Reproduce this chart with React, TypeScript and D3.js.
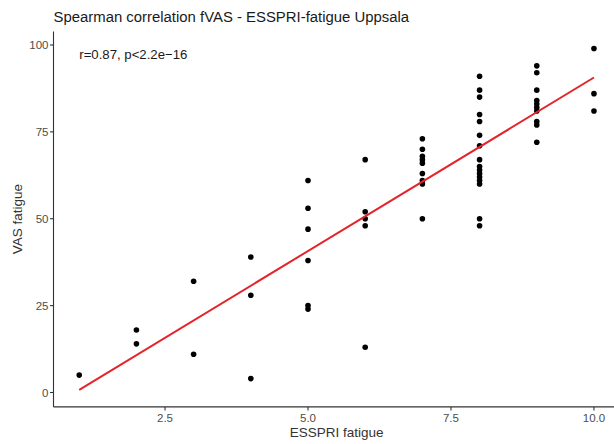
import React from "react";
import * as d3 from "d3";

// ESSPRI fatigue (x) and VAS fatigue (y) values, grouped by x
const esspriX: number[] = [
  1,
  2, 2,
  3, 3,
  4, 4, 4,
  5, 5, 5, 5, 5, 5,
  6, 6, 6, 6, 6,
  7, 7, 7, 7, 7, 7, 7, 7, 7,
  8, 8, 8, 8, 8, 8, 8, 8, 8, 8, 8, 8, 8, 8, 8, 8,
  9, 9, 9, 9, 9, 9, 9, 9, 9, 9,
  10, 10, 10,
];
const vasY: number[] = [
  5,
  18, 14,
  32, 11,
  39, 28, 4,
  61, 53, 47, 38, 25, 24,
  67, 52, 50, 48, 13,
  73, 70, 68, 67, 66, 63, 61, 60, 50,
  91, 87, 85, 80, 78, 74, 71, 67, 65, 64, 63, 62, 61, 60, 50, 48,
  94, 92, 87, 84, 83, 82, 81, 78, 77, 72,
  99, 86, 81,
];
const xTicks: number[] = [2.5, 5.0, 7.5, 10.0];
const yTicks: number[] = [0, 25, 50, 75, 100];
const titleText = "Spearman correlation fVAS - ESSPRI-fatigue Uppsala";
const statLabel = "r=0.87, p<2.2e\u221216";
const xTitle = "ESSPRI fatigue";
const yTitle = "VAS fatigue";

const W = 614;
const H = 444;
const FONT = "'Liberation Sans', Arial, Helvetica, sans-serif";

export default function App() {
  const xMin = d3.min(esspriX)!;
  const xMax = d3.max(esspriX)!;

  // least-squares fit
  const mx = d3.mean(esspriX)!;
  const my = d3.mean(vasY)!;
  let sxy = 0;
  let sxx = 0;
  esspriX.forEach((xv, i) => {
    sxy += (xv - mx) * (vasY[i] - my);
    sxx += (xv - mx) * (xv - mx);
  });
  const slope = sxy / sxx;
  const intercept = my - slope * mx;
  const fitPts: [number, number][] = [xMin, xMax].map((xv) => [xv, intercept + slope * xv]);

  const yMin = Math.min(d3.min(vasY)!, ...fitPts.map((p) => p[1]));
  const yMax = Math.max(d3.max(vasY)!, ...fitPts.map((p) => p[1]));
  const xPad = (xMax - xMin) * 0.05;
  const yPad = (yMax - yMin) * 0.05;

  // panel pixel extents
  const left = 53.5;
  const right = 619.7;
  const top = 31.4;
  const bottom = 406.9;

  const x = d3.scaleLinear().domain([xMin - xPad, xMax + xPad]).range([left, right]);
  const y = d3.scaleLinear().domain([yMin - yPad, yMax + yPad]).range([bottom, top]);

  const line = d3
    .line<[number, number]>()
    .x((d) => x(d[0]))
    .y((d) => y(d[1]));

  const tickCol = "#4d4d4d";

  return (
    <svg
      width={W}
      height={H}
      style={{ position: "absolute", left: 0, top: 0, background: "#fff" }}
      fontFamily={FONT}
    >
      <rect x={0} y={0} width={W} height={H} fill="#fff" />
      <text x={left} y={22} fontSize={14.9} fill="#1a1a1a">
        {titleText}
      </text>

      {/* axes */}
      <line x1={left} x2={left} y1={top} y2={bottom} stroke="#333" strokeWidth={1.1} />
      <line x1={left} x2={right} y1={bottom} y2={bottom} stroke="#333" strokeWidth={1.1} />

      {yTicks.map((t) => (
        <g key={"y" + t}>
          <line x1={left - 3.5} x2={left} y1={y(t)} y2={y(t)} stroke="#333" strokeWidth={1.1} />
          <text
            x={left - 5}
            y={y(t)}
            dy="0.35em"
            textAnchor="end"
            fontSize={11.5}
            fill={tickCol}
          >
            {String(t)}
          </text>
        </g>
      ))}
      {xTicks.map((t) => (
        <g key={"x" + t}>
          <line x1={x(t)} x2={x(t)} y1={bottom} y2={bottom + 3.5} stroke="#333" strokeWidth={1.1} />
          <text x={x(t)} y={bottom + 15} textAnchor="middle" fontSize={11.5} fill={tickCol}>
            {t.toFixed(1)}
          </text>
        </g>
      ))}

      <text x={(left + right) / 2} y={437} textAnchor="middle" fontSize={13.5} fill="#333">
        {xTitle}
      </text>
      <text
        transform={`translate(22, ${(top + bottom) / 2}) rotate(-90)`}
        textAnchor="middle"
        fontSize={13.5}
        fill="#333"
      >
        {yTitle}
      </text>

      {/* points */}
      {esspriX.map((xv, i) => (
        <circle key={i} cx={x(xv)} cy={y(vasY[i])} r={2.8} fill="#000" />
      ))}

      {/* regression line */}
      <path d={line(fitPts) || ""} fill="none" stroke="#e3242b" strokeWidth={2} />

      <text x={x(xMin)} y={59} fontSize={13.2} fill="#1a1a1a">
        {statLabel}
      </text>
    </svg>
  );
}
